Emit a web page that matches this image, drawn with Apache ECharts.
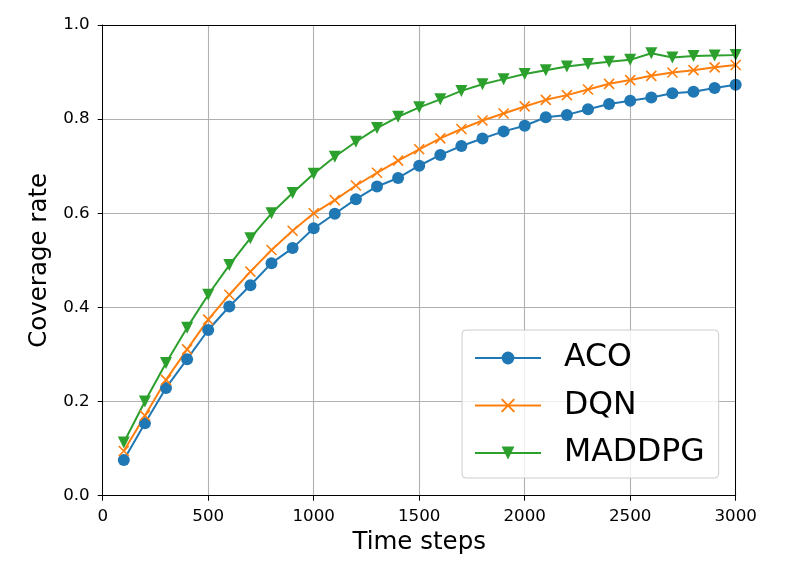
<!DOCTYPE html>
<html>
<head>
<meta charset="utf-8">
<script src="https://cdn.jsdelivr.net/npm/echarts@6/dist/echarts.min.js"></script>
<style>
html,body{margin:0;padding:0;background:#fff;}
#chart{width:789px;height:572px;}
</style>
</head>
<body>
<div id="chart"></div>
<script>
var steps = [100,200,300,400,500,600,700,800,900,1000,1100,1200,1300,1400,1500,1600,1700,1800,1900,2000,2100,2200,2300,2400,2500,2600,2700,2800,2900,3000];
var aco = [0.076,0.154,0.229,0.290,0.352,0.402,0.447,0.494,0.526,0.568,0.599,0.630,0.657,0.675,0.701,0.724,0.743,0.759,0.774,0.786,0.804,0.809,0.821,0.832,0.839,0.846,0.855,0.858,0.866,0.873];
var dqn = [0.095,0.170,0.246,0.311,0.374,0.427,0.476,0.522,0.563,0.600,0.628,0.659,0.686,0.712,0.736,0.759,0.779,0.797,0.812,0.827,0.841,0.851,0.863,0.875,0.883,0.892,0.899,0.904,0.910,0.915];
var maddpg = [0.113,0.200,0.282,0.357,0.427,0.490,0.547,0.600,0.643,0.684,0.720,0.752,0.781,0.805,0.825,0.842,0.860,0.874,0.885,0.896,0.904,0.912,0.917,0.922,0.926,0.940,0.931,0.934,0.935,0.936];
var seriesNames = ['ACO','DQN','MADDPG'];
var xTicks = [0,500,1000,1500,2000,2500,3000];

function pairs(ys){ return steps.map(function(x,i){ return [x, ys[i]]; }); }

var chart = echarts.init(document.getElementById('chart'), null, {renderer:'canvas'});
var font = 'DejaVu Sans';
var frameAxis = {
  axisLine: {show: true, onZero: false, lineStyle: {color: '#000', width: 1}},
  axisTick: {show: false}, axisLabel: {show: false}, splitLine: {show: false}, z: 5
};
var option = {
  animation: false,
  backgroundColor: '#ffffff',
  grid: {left: 102.7, right: 53.3, top: 25, bottom: 76.3},
  xAxis: [{
    type: 'value', min: xTicks[0], max: xTicks[xTicks.length-1], interval: 500,
    name: 'Time steps', nameLocation: 'middle', nameGap: 34,
    nameTextStyle: {fontFamily: font, fontSize: 24.5, color: '#000'},
    axisLine: {onZero: false, lineStyle: {color: '#000', width: 1}},
    axisTick: {show: true, length: 5, lineStyle: {color: '#000', width: 1}},
    axisLabel: {fontFamily: font, fontSize: 16.7, color: '#000', margin: 12, formatter: function(v){ return String(v); }},
    splitLine: {show: true, lineStyle: {color: '#b0b0b0', width: 1.1}}
  }, Object.assign({type: 'value', position: 'top', min: xTicks[0], max: xTicks[xTicks.length-1]}, frameAxis)],
  yAxis: [{
    type: 'value', min: 0, max: 1, interval: 0.2,
    name: 'Coverage rate', nameLocation: 'middle', nameGap: 38,
    nameTextStyle: {fontFamily: font, fontSize: 24.5, color: '#000'},
    axisLine: {show: true, onZero: false, lineStyle: {color: '#000', width: 1}},
    axisTick: {show: true, length: 5, lineStyle: {color: '#000', width: 1}},
    axisLabel: {fontFamily: font, fontSize: 16.7, color: '#000', margin: 13, formatter: function(v){ return v.toFixed(1); }},
    splitLine: {show: true, lineStyle: {color: '#b0b0b0', width: 1.1}}
  }, Object.assign({type: 'value', position: 'right', min: 0, max: 1}, frameAxis)],
  legend: {
    orient: 'vertical', left: 462, top: 330,
    padding: [12, 14, 9, 12],
    itemWidth: 66, itemHeight: 16, itemGap: 15.5,
    backgroundColor: 'rgba(255,255,255,0.8)',
    borderColor: '#cccccc', borderWidth: 1, borderRadius: 4,
    textStyle: {fontFamily: font, fontSize: 31.5, color: '#000', lineHeight: 30, padding: [0, 0, 0, 18]},
    data: seriesNames
  },
  series: [
    {name: seriesNames[0], type: 'line', data: pairs(aco), symbol: 'circle', symbolSize: 12,
     lineStyle: {color: '#1f77b4', width: 2}, itemStyle: {color: '#1f77b4', borderWidth: 0}, z: 3},
    {name: seriesNames[1], type: 'line', data: pairs(dqn), symbol: 'path://M0,0L1,1M1,0L0,1', symbolSize: 10,
     lineStyle: {color: '#ff7f0e', width: 2}, itemStyle: {color: '#ff7f0e', borderColor: '#ff7f0e', borderWidth: 1.6}, z: 3},
    {name: seriesNames[2], type: 'line', data: pairs(maddpg), symbol: 'triangle', symbolRotate: 180, symbolSize: 12,
     lineStyle: {color: '#2ca02c', width: 2}, itemStyle: {color: '#2ca02c', borderWidth: 0}, z: 3}
  ]
};
chart.setOption(option);
</script>
</body>
</html>
